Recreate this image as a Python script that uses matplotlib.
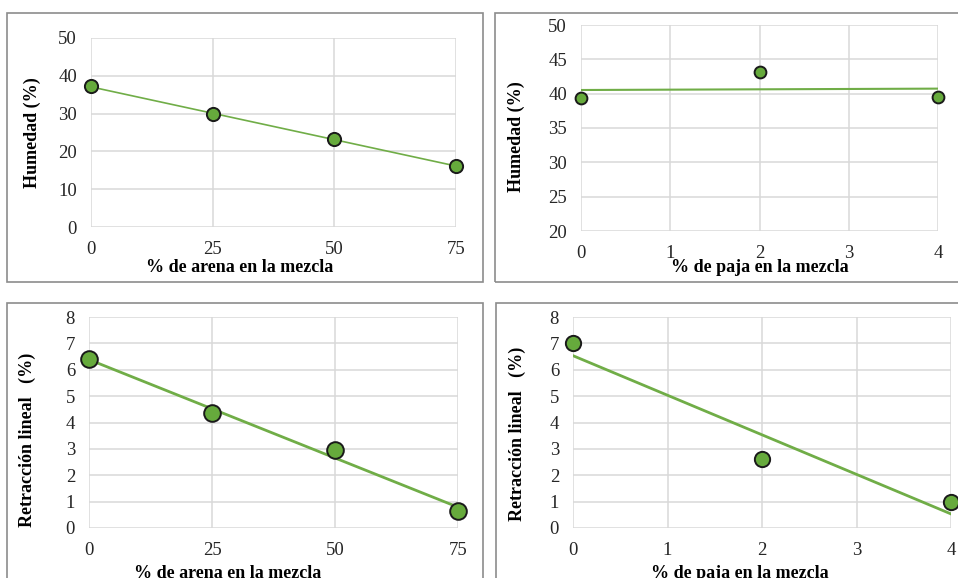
import numpy as np
import matplotlib
matplotlib.use("Agg")
import matplotlib.pyplot as plt
from matplotlib.patches import Rectangle

# Data
arena_pct = [0, 25, 50, 75]
humedad_arena = [37.2, 29.8, 23.3, 16.1]
retraccion_arena = [6.4, 4.35, 2.95, 0.65]

paja_pct = [0, 2, 4]
humedad_paja = [39.3, 43.1, 39.5]
retraccion_paja = [7.0, 2.6, 1.0]

xt_arena = [0, 25, 50, 75]
xt_paja = [0, 1, 2, 3, 4]

plt.rcParams['font.family'] = ['Liberation Serif', 'DejaVu Serif']

W, H = 958, 578
fig = plt.figure(figsize=(W / 100, H / 100), dpi=100)

GREEN_LINE = '#70ad47'
GREEN_FILL = '#66aa3c'
GRID = '#d9d9d9'

# Pixel -> figure coords helper
def rect(x0, x1, y0, y1):
    return [x0 / W, 1 - y1 / H, (x1 - x0) / W, (y1 - y0) / H]

# outer frames of the four charts
frames = [(7, 483, 13, 282), (495, 965, 13, 282), (7, 483, 303, 590), (496, 965, 303, 590)]
for (x0, x1, y0, y1) in frames:
    fig.patches.append(Rectangle((x0 / W, 1 - y1 / H), (x1 - x0) / W, (y1 - y0) / H,
                                 transform=fig.transFigure, fill=False,
                                 edgecolor='#8c8c8c', linewidth=1.2, zorder=0))

def draw_panel(box, x, y, xticks, ylim, ystep, ylabel, xlabel, ms, lw,
               ylab_px, xlab_px):
    ax = fig.add_axes(rect(*box))
    x0, x1, y0, y1 = box
    slope, icpt = np.polyfit(x, y, 1)
    xs = np.array([xticks[0], xticks[-1]])
    ax.plot(xs, slope * xs + icpt, color=GREEN_LINE, lw=lw, zorder=3)
    ax.plot(x, y, 'o', ms=ms, mfc=GREEN_FILL, mec='#1a1a1a', mew=1.4,
            zorder=4, clip_on=False)
    ax.set_xlim(xticks[0], xticks[-1])
    ax.set_ylim(*ylim)
    ax.set_xticks(xticks)
    ax.set_yticks(np.arange(ylim[0], ylim[1] + 0.01, ystep))
    ax.grid(True, color=GRID, lw=1.1)
    ax.set_axisbelow(True)
    for s in ax.spines.values():
        s.set_visible(False)
    ax.tick_params(length=0, labelsize=13.5, labelcolor='#262626')
    ax.tick_params(axis='x', pad=10)
    ax.tick_params(axis='y', pad=10)
    ax.set_ylabel(ylabel, fontsize=13, fontweight='bold')
    ax.set_xlabel(xlabel, fontsize=13, fontweight='bold')
    # place labels at pixel positions
    ax.yaxis.set_label_coords((ylab_px[0] - x0) / (x1 - x0), (y1 - ylab_px[1]) / (y1 - y0))
    ax.xaxis.set_label_coords((xlab_px[0] - x0) / (x1 - x0), (y1 - xlab_px[1]) / (y1 - y0))
    ax.yaxis.label.set_va('center')
    ax.xaxis.label.set_va('center')
    return ax

draw_panel((91, 456, 38, 227), arena_pct, humedad_arena, xt_arena, (0, 50), 10,
           'Humedad (%)', '% de arena en la mezcla', 9.5, 1.2, (32, 133), (240, 268))
draw_panel((581, 938, 25, 231), paja_pct, humedad_paja, xt_paja, (20, 50), 5,
           'Humedad (%)', '% de paja en la mezcla', 8.5, 1.5, (516, 137), (760, 268))
draw_panel((89, 458, 317, 528), arena_pct, retraccion_arena, xt_arena, (0, 8), 1,
           'Retracción lineal   (%)', '% de arena en la mezcla', 12, 2.0, (27, 440), (228, 573))
draw_panel((573, 951, 317, 528), paja_pct, retraccion_paja, xt_paja, (0, 8), 1,
           'Retracción lineal   (%)', '% de paja en la mezcla', 11, 2.0, (517, 434), (740, 573))

fig.savefig('out.png', dpi=100)
